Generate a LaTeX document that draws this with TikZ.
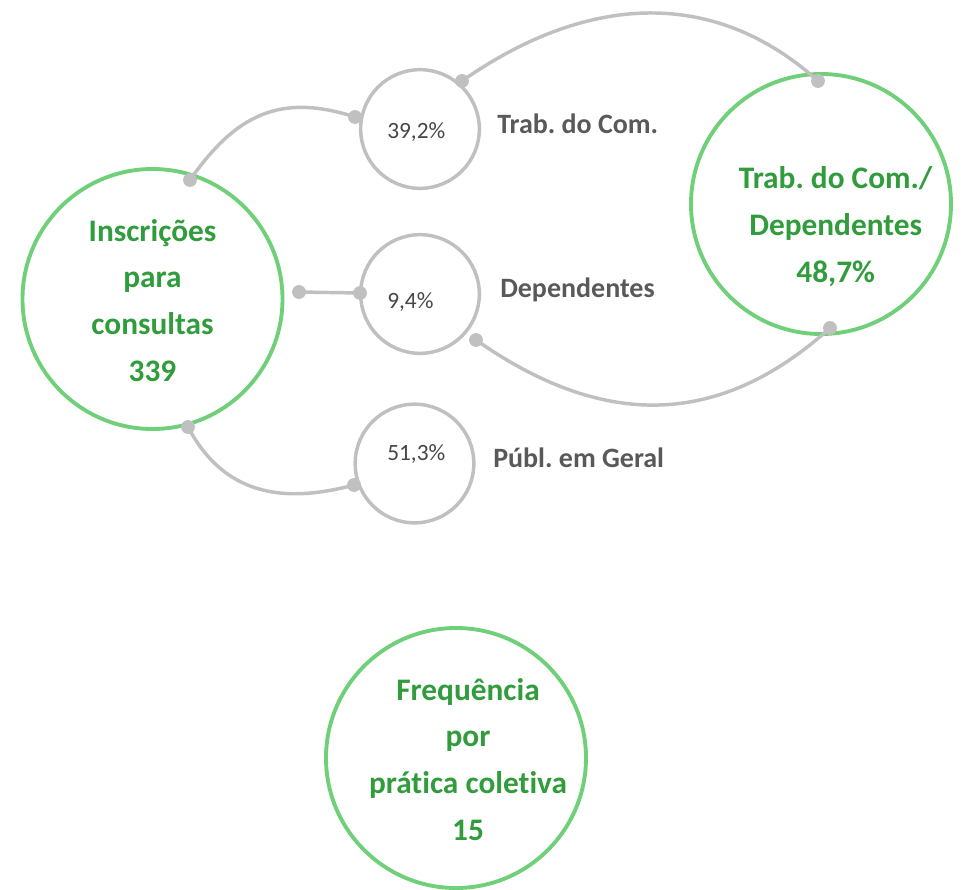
\documentclass[tikz,border=0pt]{standalone}
\usepackage{fontspec}
\setmainfont{Carlito}[Ligatures=NoCommon]
\usetikzlibrary{positioning, calc}

\definecolor{ringgreen}{RGB}{112,208,122}
\definecolor{textgreen}{RGB}{48,156,60}
\definecolor{linegray}{RGB}{192,192,192}
\definecolor{labelgray}{RGB}{89,89,89}
\definecolor{pctgray}{RGB}{70,70,70}

\frenchspacing

\begin{document}
\begin{tikzpicture}[
    x=0.75pt,
    y=0.75pt,
    big/.style={
        circle,
        draw=ringgreen,
        line width=2.9pt,
        minimum size=195pt,
        inner sep=0pt,
    },
    small/.style={
        circle,
        draw=linegray,
        line width=2.6pt,
        minimum size=89pt,
        inner sep=0pt,
    },
    title/.style={
        text=textgreen,
        font=\fontsize{23.5}{35}\selectfont\bfseries,
        align=center,
        inner sep=0pt,
    },
    pct/.style={
        text=pctgray,
        font=\fontsize{17.5}{21}\selectfont,
        anchor=base west,
        inner sep=0pt,
    },
    tag/.style={
        text=labelgray,
        font=\fontsize{21}{25}\selectfont\bfseries,
        anchor=base west,
        inner sep=0pt,
    },
    link/.style={
        draw=linegray,
        line width=2.6pt,
    },
    dot/.style={
        fill=linegray,
    },
]

\useasboundingbox (0,0) rectangle (966,-889);

% --- Circles ---
\node[big]   (insc) at (152.5,-299) {};
\node[small] (trab) at (420,-129)   {};
\node[small] (dep)  at (420,-294)   {};
\node[small] (publ) at (414.5,-463.5) {};
\node[big]   (tdep) at (821,-204)   {};
\node[big]   (freq) at (456,-758)   {};

% --- Texts ---
\node[title] (inscT) at ([yshift=-1]insc.center) {Inscrições\\para\\consultas\\339};
\node[title] (tdepT) at ([xshift=11,yshift=-17]tdep.center) {Trab. do Com./\\Dependentes\\48,7\%};
\node[title] (freqT) at ([xshift=9,yshift=-1]freq.center) {Frequência\\por\\prática coletiva\\15};

\node[pct] (trabP) at (387,-138) {39,2\%};
\node[pct] (depP)  at (387,-308) {9,4\%};
\node[pct] (publP) at (387,-460) {51,3\%};

\node[tag] (trabL) at (497,-133) {Trab. do Com.};
\node[tag] (depL)  at (500,-297) {Dependentes};
\node[tag] (publL) at (493,-467) {Públ. em Geral};

% --- Link ends ---
\coordinate (i1) at (190,-180);
\coordinate (i2) at (299,-292);
\coordinate (i3) at (188,-427);
\coordinate (t1) at (355,-117);
\coordinate (t2) at (462,-81);
\coordinate (d1) at (360,-293);
\coordinate (d2) at (476,-340);
\coordinate (p1) at (354,-485);
\coordinate (c1) at (818,-81);
\coordinate (c2) at (830,-328);

% --- Links ---
\path[link]
    (i1) edge [out=55, in=162, looseness=1.15]  (t1)
    (i2) edge                                   (d1)
    (i3) edge [out=-62, in=195, looseness=1.1]  (p1)
    (t2) edge [out=35, in=138, looseness=1.05]  (c1)
    (d2) edge [out=-35, in=222, looseness=1.1]  (c2)
;

\foreach \p in {i1,i2,i3,t1,t2,d1,d2,p1,c1,c2}
    \fill[dot] (\p) circle (5.2pt);

\end{tikzpicture}
\end{document}
